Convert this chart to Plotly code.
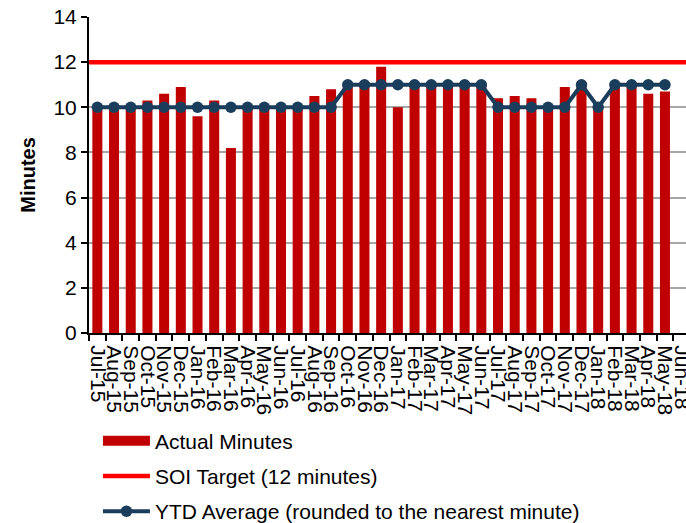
import plotly.graph_objects as go

# Monthly response-time data, Jul-15 through Jun-18
months = ["Jul-15", "Aug-15", "Sep-15", "Oct-15", "Nov-15", "Dec-15",
          "Jan-16", "Feb-16", "Mar-16", "Apr-16", "May-16", "Jun-16",
          "Jul-16", "Aug-16", "Sep-16", "Oct-16", "Nov-16", "Dec-16",
          "Jan-17", "Feb-17", "Mar-17", "Apr-17", "May-17", "Jun-17",
          "Jul-17", "Aug-17", "Sep-17", "Oct-17", "Nov-17", "Dec-17",
          "Jan-18", "Feb-18", "Mar-18", "Apr-18", "May-18", "Jun-18"]

actual_minutes = [9.9, 10.0, 10.0, 10.3, 10.6, 10.9, 9.6, 10.3, 8.2, 10.0, 10.0, 10.0,
                  10.0, 10.5, 10.8, 11.0, 11.0, 11.8, 10.0, 11.0, 11.0, 11.0, 11.0, 11.0,
                  10.4, 10.5, 10.4, 10.1, 10.9, 11.0, 10.0, 10.9, 11.0, 10.6, 10.7, None]

ytd_average = [10, 10, 10, 10, 10, 10, 10, 10, 10, 10, 10, 10,
               10, 10, 10, 11, 11, 11, 11, 11, 11, 11, 11, 11,
               10, 10, 10, 10, 10, 11, 10, 11, 11, 11, 11, None]

soi_target = 12

y_ticks = [0, 2, 4, 6, 8, 10, 12, 14]

idx = list(range(len(months)))
FONT = "Liberation Sans, Arial, sans-serif"
BAR_RED = "#C00000"
NAVY = "#1B3D5C"

fig = go.Figure()

fig.add_trace(go.Bar(
    x=idx, y=actual_minutes, name="Actual Minutes",
    marker=dict(color=BAR_RED, line=dict(width=0)),
    legendgroup="a", showlegend=False,
))
# Wide rectangular legend key for the bar series
fig.add_trace(go.Scatter(
    x=[None], y=[None], mode="lines", name="Actual Minutes",
    line=dict(color=BAR_RED, width=10),
    legendgroup="a", hoverinfo="skip",
))

# Target spans the full width of the category axis
fig.add_trace(go.Scatter(
    x=[idx[0] - 0.5, idx[-1] + 0.5], y=[soi_target, soi_target],
    mode="lines", name="SOI Target (12 minutes)",
    line=dict(color="#FF0000", width=4.5),
    legendgroup="b",
))

fig.add_trace(go.Scatter(
    x=idx, y=ytd_average, mode="lines+markers",
    name="YTD Average (rounded to the nearest minute)",
    line=dict(color=NAVY, width=4),
    marker=dict(color=NAVY, size=11.5),
    legendgroup="c",
))

fig.update_layout(
    width=686, height=523,
    margin=dict(l=89, r=0, t=17, b=190, autoexpand=False),
    paper_bgcolor="white", plot_bgcolor="white",
    font=dict(family=FONT, size=20, color="black"),
    bargap=0.4,
    showlegend=True,
    legend=dict(
        x=0.015, y=-0.277, xanchor="left", yanchor="top",
        font=dict(family=FONT, size=21, color="black"),
        traceorder="grouped", tracegroupgap=5,
        itemwidth=47,
        bgcolor="rgba(0,0,0,0)",
    ),
)

fig.update_xaxes(
    range=[-0.5, 35.26],
    tickmode="array", tickvals=idx, ticktext=months,
    tickangle=90, ticks="", showgrid=False,
    ticklabeloverflow="allow", ticklabelstandoff=6,
    showline=True, linecolor="black", linewidth=2,
    tickfont=dict(family=FONT, size=21, color="black"),
    minor=dict(tickmode="linear", tick0=0.5, dtick=1, ticks="outside",
               ticklen=6, tickcolor="black", tickwidth=1.5, showgrid=False),
    zeroline=False,
)

fig.update_yaxes(
    range=[0, 14], tickmode="array", tickvals=y_ticks,
    showgrid=True, gridcolor="#A6A6A6", gridwidth=1.5,
    showline=True, linecolor="black", linewidth=2,
    ticks="outside", ticklen=6, tickcolor="black", tickwidth=1.5,
    tickfont=dict(family=FONT, size=21, color="black"),
    title=dict(text="<b>Minutes</b>", font=dict(family=FONT, size=20, color="black"),
               standoff=12),
    zeroline=False,
)

fig.write_html("out.html")
